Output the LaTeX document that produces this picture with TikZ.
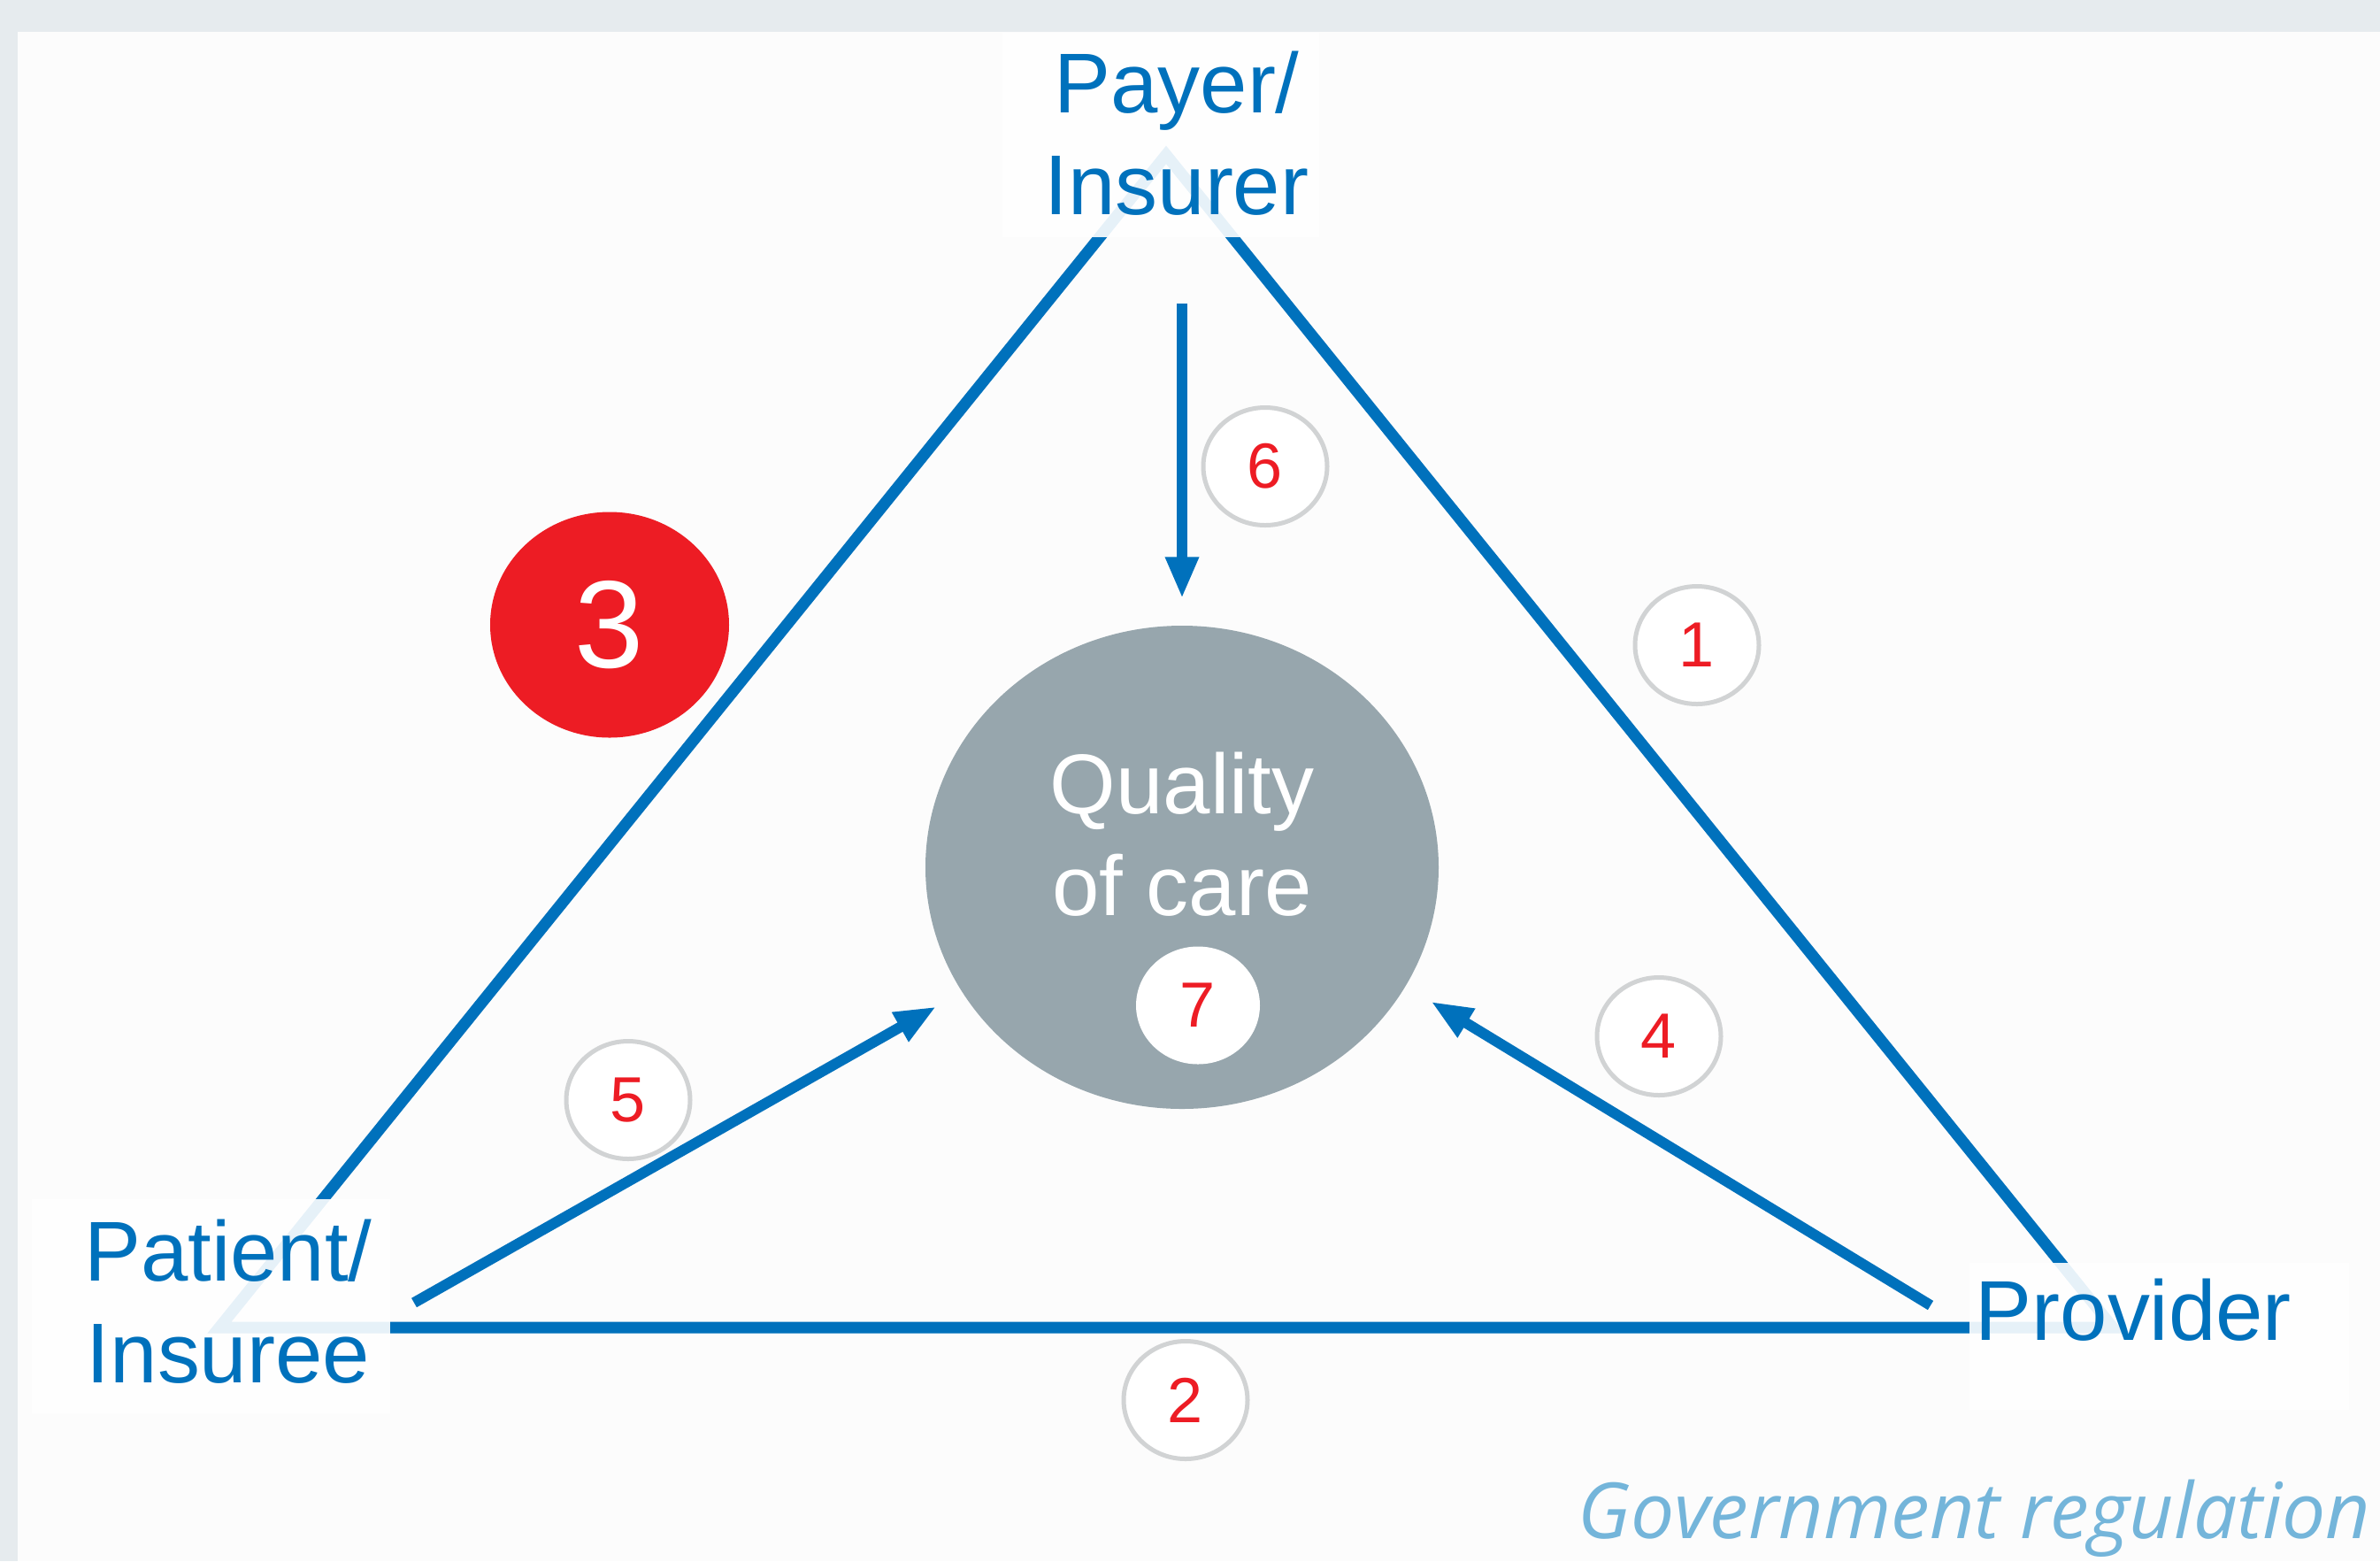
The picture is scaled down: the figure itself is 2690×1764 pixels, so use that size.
\documentclass[tikz,border=0pt]{standalone}
\usepackage{fontspec}
\setmainfont{Liberation Sans}
\newfontfamily\govfont{Open Sans}
\usetikzlibrary{arrows.meta,shapes.geometric}

\definecolor{edgeblue}{HTML}{0071BC}
\definecolor{numred}{HTML}{ED1C24}
\definecolor{badgegray}{HTML}{D1D3D4}
\definecolor{qualgray}{HTML}{97A6AD}
\definecolor{outerbg}{HTML}{E6EBEE}
\definecolor{panelbg}{HTML}{FCFCFC}
\definecolor{govblue}{HTML}{74B5DA}

\begin{document}
\begin{tikzpicture}[x=0.1mm,y=-0.1mm,
        edge/.style={line width=1.3mm, draw=edgeblue, line join=miter},
        flow/.style={line width=1.2mm, draw=edgeblue, fill=edgeblue, -{Triangle[width=3.5mm,length=4.7mm]}},
        labelbox/.style={fill=white, fill opacity=0.9},
        actor/.style={text=edgeblue, align=center, inner sep=0, font=\fontsize{27.3pt}{32.7pt}\selectfont},
        badge/.style={ellipse, draw=badgegray, line width=0.5mm, fill=white, minimum width=14mm, minimum height=13.3mm, inner sep=0, text=numred, font=\fontsize{20.5pt}{24pt}\selectfont}]
        \useasboundingbox (0,0) rectangle (2690,1764);
        \fill[outerbg] (0,0) rectangle (2690,1764); %rahmen
        \fill[panelbg] (20,36) rectangle (2690,1764); %flaeche

        % dreieck
        \coordinate (apex) at (1318,175);
        \coordinate (vleft) at (248,1500);
        \coordinate (vright) at (2388,1500);
        \draw[edge] (apex) -- (vleft) -- (vright) -- cycle;

        % kaesten ueber den ecken
        \fill[labelbox] (1133,37) rectangle (1491,268); %payer
        \fill[labelbox] (36,1355) rectangle (441,1597); %patient
        \fill[labelbox] (2226,1427) rectangle (2655,1593); %provider

        \node[actor] (payer) at (1330,151) {Payer/\\Insurer};
        \node[actor] (patient) at (258,1471) {Patient/\\Insuree};
        \node[actor, anchor=base west] (provider) at (2232,1514) {Provider};

        % qualitaet
        \node[ellipse, fill=qualgray, minimum width=58mm, minimum height=54.6mm, inner sep=0] (quality) at (1336,980) {};
        \node[actor, text=white] (qtext) at (1336,943) {Quality\\of care};
        \node[badge, draw=none] (n7) at (1354,1136) {7};

        % pfeile
        \coordinate (s6) at (1336,343);
        \coordinate (s5) at (468,1472);
        \coordinate (s4) at (2182,1475);
        \draw[flow, shorten >=3mm] (s6) -- (quality.north);
        \draw[flow, shorten >=3.3mm] (s5) -- (quality);
        \draw[flow, shorten >=3.3mm] (s4) -- (quality.-28.5);

        % nummern
        \node[badge] (n1) at (1918,729) {1};
        \node[badge] (n2) at (1340,1582) {2};
        \node[badge] (n4) at (1875,1171) {4};
        \node[badge] (n5) at (710,1243) {5};
        \node[badge] (n6) at (1430,527) {6};
        \node[ellipse, fill=numred, minimum width=27mm, minimum height=25.5mm, inner sep=0, text=white, font=\fontsize{40pt}{48pt}\selectfont] (n3) at (689,706) {3};

        \node[anchor=base east, inner sep=0, text=govblue, font=\govfont\itshape\fontsize{24.9pt}{29pt}\selectfont] (gov) at (2680,1738) {Government regulation};
    \end{tikzpicture}
\end{document}
